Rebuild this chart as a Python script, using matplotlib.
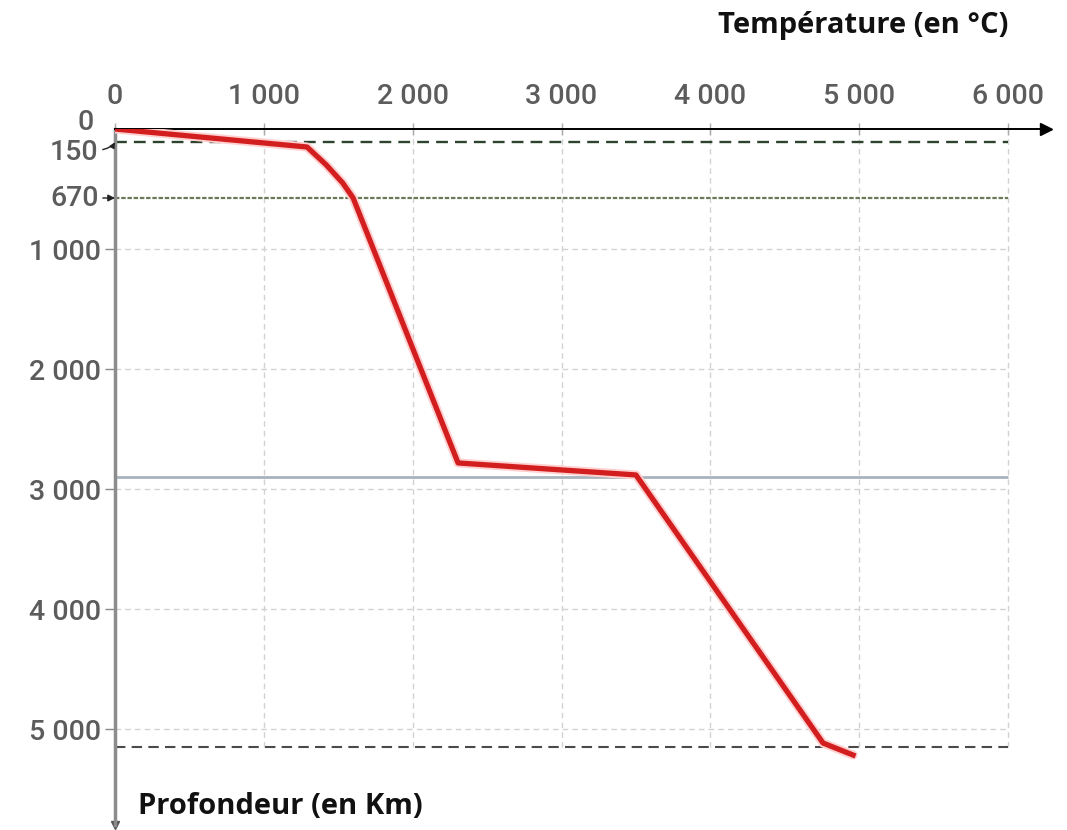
import matplotlib
matplotlib.use("Agg")
import matplotlib.pyplot as plt

# red geotherm (temperature in °C, depth in km)
temps = [0, 1290, 1420, 1530, 1600, 2305, 3500, 4757, 4959]
depths = [0, 150, 300, 450, 575, 2783, 2883, 5117, 5217]

x_ticks = [0, 1000, 2000, 3000, 4000, 5000, 6000]
x_labels = ["0", "1 000", "2 000", "3 000", "4 000", "5 000", "6 000"]
y_ticks = [1000, 2000, 3000, 4000, 5000]
y_labels = ["1 000", "2 000", "3 000", "4 000", "5 000"]

# boundaries drawn across the chart (km)
lith_depth = 110      # labelled 150
mantle_depth = 575    # labelled 670
core_depth = 2900
inner_depth = 5150

tick_color = "#5c5c5c"
tick_font = dict(family="Roboto", fontsize=20.5, weight="medium", color=tick_color)

fig = plt.figure(figsize=(10.67, 8.3), dpi=100)
ax = fig.add_axes([115 / 1067, 5 / 830, 931 / 1067, 696 / 830])
ax.set_xlim(0, 6255)
ax.set_ylim(5800, 0)

# grid
ax.vlines(x_ticks[1:], 0, inner_depth, colors="#d2d2d2", linestyles=(0, (4, 3)), lw=1, zorder=1)
ax.hlines(y_ticks, 0, 6000, colors="#d2d2d2", linestyles=(0, (4, 3)), lw=1, zorder=1)

# boundaries
ax.hlines(lith_depth, 0, 6000, colors="#2e432e", linestyles=(0, (5, 3)), lw=1.7, zorder=2)
ax.hlines(mantle_depth, 0, 6000, colors="#6a7a58", linestyles=(0, (2, 0.8)), lw=1.6, zorder=2)
ax.hlines(core_depth, 0, 6000, colors="#a9b3bd", lw=2, zorder=2)
ax.hlines(inner_depth, 0, 6000, colors="#4a4a4a", linestyles=(0, (5, 3)), lw=1.5, zorder=2)

ax.plot(temps, depths, color="#ffd0d0", lw=6.5, solid_capstyle="round", zorder=3)
ax.plot(temps, depths, color="#d21e1e", lw=3.8, solid_joinstyle="round", zorder=4)

# axes
for s in ["right", "bottom"]:
    ax.spines[s].set_visible(False)
ax.spines["top"].set_color("black")
ax.spines["top"].set_linewidth(1.4)
ax.spines["left"].set_color("#8c8c8c")
ax.spines["left"].set_linewidth(2.5)
ax.plot(1, 1, marker=">", color="black", ms=8, transform=ax.transAxes, clip_on=False)
ax.plot(0, 0, marker="v", color="#555555", ms=6, transform=ax.transAxes, clip_on=False)

ax.xaxis.tick_top()
ax.set_xticks(x_ticks)
ax.set_xticklabels(x_labels)
ax.set_yticks(y_ticks)
ax.set_yticklabels(y_labels)
ax.tick_params(axis="x", direction="inout", length=8, width=1, color="#aaaaaa", pad=10)
ax.tick_params(axis="y", direction="out", length=7, width=1, color="#888888", pad=3)
for lab in ax.get_xticklabels() + ax.get_yticklabels():
    lab.set(**tick_font)

# labels for 0, 150 and 670 with their leaders
ax.annotate("0", xy=(-140, -55), xycoords="data", ha="right", va="center",
            annotation_clip=False, **tick_font)
ax.annotate("150", xy=(0, lith_depth), xytext=(-110, 195), textcoords="data",
            ha="right", va="center", annotation_clip=False,
            arrowprops=dict(arrowstyle="-|>", color="#222222", lw=1, shrinkA=1, shrinkB=0,
                            mutation_scale=8, connectionstyle="angle3,angleA=0,angleB=60"),
            **tick_font)
ax.annotate("670", xy=(0, mantle_depth), xytext=(-110, mantle_depth), textcoords="data",
            ha="right", va="center", annotation_clip=False,
            arrowprops=dict(arrowstyle="-|>", color="#222222", lw=1, shrinkA=1, shrinkB=0,
                            mutation_scale=10),
            **tick_font)

fig.text(1008 / 1067, 1 - 25 / 830, "Température (en °C)", ha="right", va="center",
         fontsize=21, fontweight="bold", family="Open Sans", color="#111111")
fig.text(138 / 1067, 1 - 806 / 830, "Profondeur (en Km)", ha="left", va="center",
         fontsize=21, fontweight="bold", family="Open Sans", color="#111111")

fig.savefig("out.png", dpi=100)
